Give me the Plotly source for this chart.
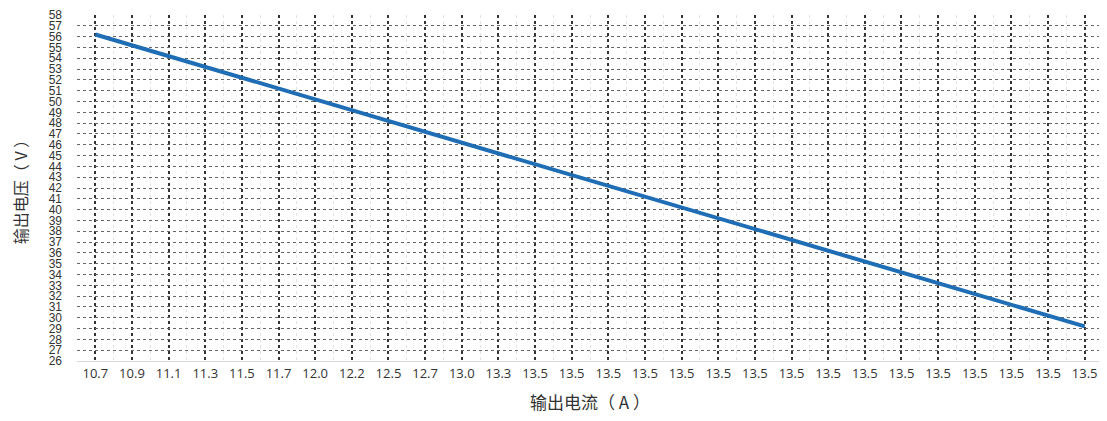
import plotly.graph_objects as go

current_labels = ["10.7", "10.9", "11.1", "11.3", "11.5", "11.7", "12.0", "12.2", "12.5", "12.7",
                  "13.0", "13.3", "13.5", "13.5", "13.5", "13.5", "13.5", "13.5", "13.5", "13.5",
                  "13.5", "13.5", "13.5", "13.5", "13.5", "13.5", "13.5", "13.5"]
voltage = [56.2, 55.2, 54.2, 53.2, 52.2, 51.2, 50.2, 49.2, 48.2, 47.2,
           46.2, 45.2, 44.2, 43.2, 42.2, 41.2, 40.2, 39.2, 38.2, 37.2,
           36.2, 35.2, 34.2, 33.2, 32.2, 31.2, 30.2, 29.2]
y_ticks = list(range(26, 59))

positions = list(range(len(current_labels)))

fig = go.Figure()
fig.add_trace(go.Scatter(x=positions, y=voltage, mode="lines",
                         line=dict(color="#1f6db5", width=4), showlegend=False))

# page body has an 8px margin, so the figure is sized/positioned to compensate
fig.update_layout(
    width=1099, height=413,
    margin=dict(l=69, r=4, t=7, b=60, autoexpand=False),
    paper_bgcolor="white", plot_bgcolor="white",
    font=dict(family="Noto Sans CJK SC, Liberation Sans", color="#333333"),
)
fig.update_xaxes(
    automargin=False,
    range=[-0.5, len(current_labels) - 0.5],
    tickmode="array", tickvals=positions, ticktext=current_labels,
    tickfont=dict(family="Open Sans", size=13, color="#333333"),
    showgrid=True, gridcolor="#333333", griddash="dot", gridwidth=1.5,
    minor=dict(dtick=0.5, tick0=0.5, showgrid=True, gridcolor="#e3e3e3", gridwidth=1),
    showline=True, linecolor="#d9d9d9", mirror=False,
    zeroline=False, ticks="",
    title=dict(text="输出电流（ A ）", font=dict(size=17, color="#333333"), standoff=16),
)
fig.update_yaxes(
    automargin=False,
    range=[26, 58],
    tickmode="array", tickvals=y_ticks, ticktext=[str(v) for v in y_ticks],
    tickfont=dict(family="Liberation Sans Narrow, Liberation Sans", size=12, color="#333333"),
    ticklabelstandoff=14, ticklabeloverflow="allow",
    showgrid=True, gridcolor="#666666", griddash="dot", gridwidth=1,
    zeroline=False, ticks="", showline=False,
    title=dict(text="输出电压（ V ）", font=dict(size=16, color="#333333"), standoff=26),
)

fig.write_html("out.html")
